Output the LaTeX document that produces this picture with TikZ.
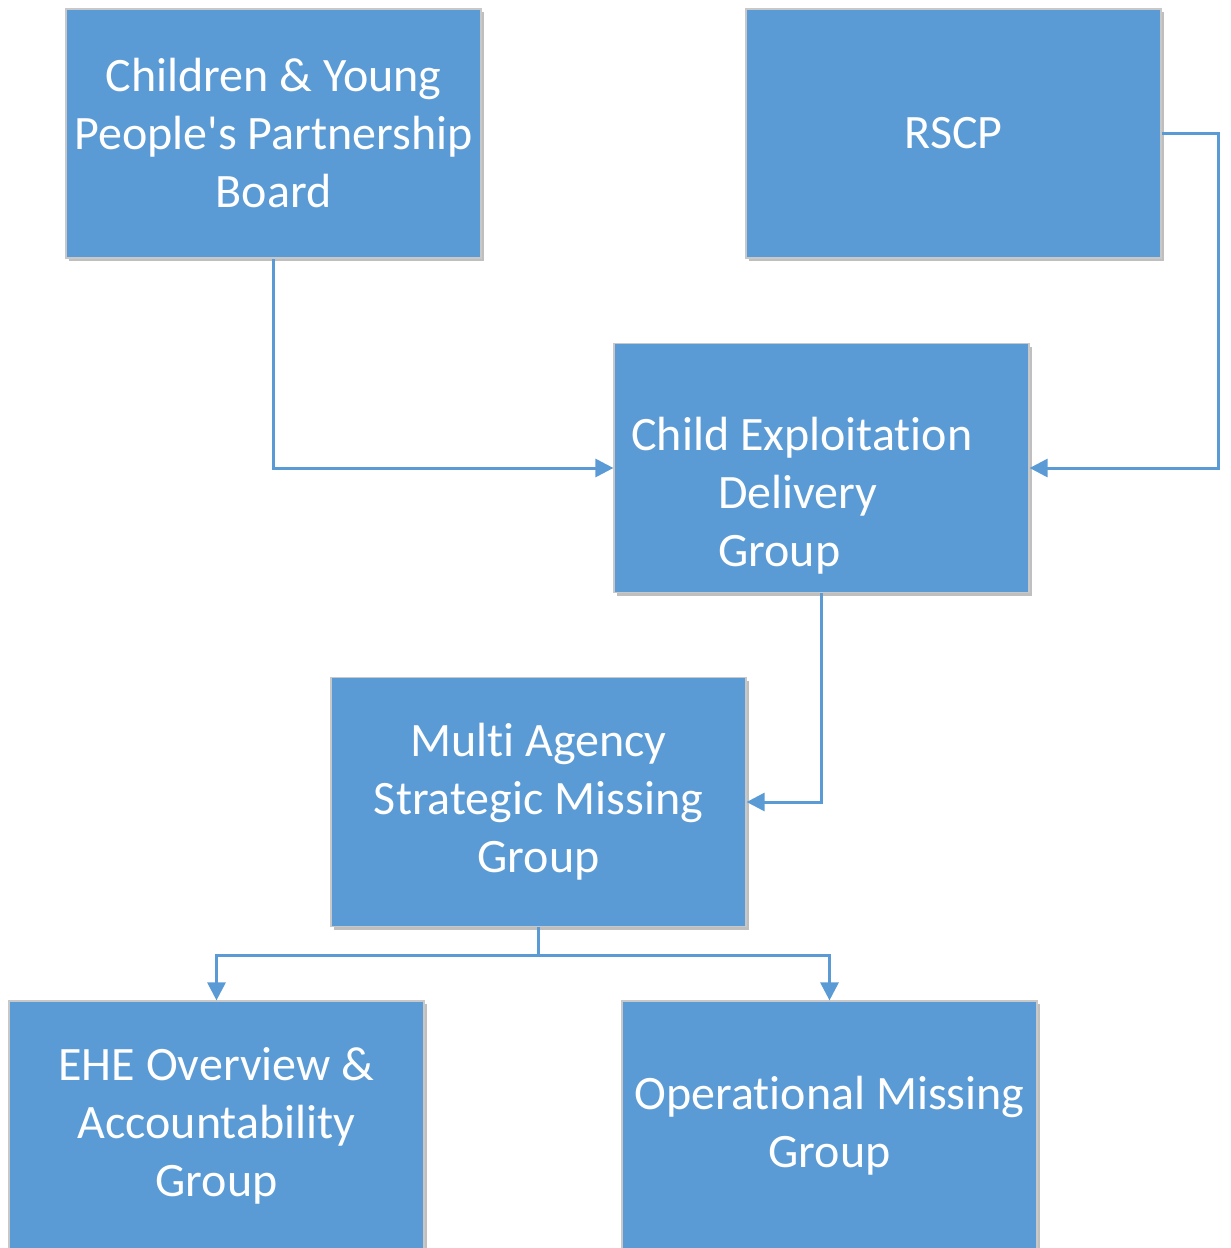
\documentclass[tikz,border=0pt]{standalone}
\usepackage{fontspec}
\setmainfont{Carlito}[Ligatures={NoCommon}]
\usetikzlibrary{arrows.meta,shadows}
\definecolor{boxblue}{HTML}{5B9BD5}
\definecolor{boxedge}{HTML}{C8C8C8}
\begin{document}
\begin{tikzpicture}[x=1pt,y=-1pt,
  txt/.style={text=white, align=center, inner sep=0pt,
    font=\fontsize{48pt}{58pt}\selectfont},
  box/.style={txt, fill=boxblue, draw=boxedge, line width=1.2pt,
    minimum width=415pt, minimum height=249pt,
    drop shadow={shadow xshift=3pt, shadow yshift=-3pt, opacity=0.25, fill=black}},
  conn/.style={draw=boxblue, line width=3pt,
    -{Triangle[length=18pt,width=18pt]}},
  plain/.style={draw=boxblue, line width=3pt}]
\useasboundingbox (0,0) rectangle (1231,1248);
\node[box] (cyp) at (273.5,133.5) {Children \& Young\\People\textquotesingle s Partnership\\Board};
\node[box] (rscp) at (953.5,133.5) {RSCP};
\node[box] (cedg) at (821.5,468) {};
\node[txt, align=left, xshift=-19.5pt, yshift=-28pt] (cedgtext) at (cedg.center) {Child Exploitation\\\hspace*{87pt}Delivery\\\hspace*{87pt}Group};
\node[box] (masmg) at (538.5,802) {Multi Agency\\Strategic Missing\\Group};
\node[box] (ehe) at (216.5,1125.5) {EHE Overview \&\\Accountability\\Group};
\node[box] (omg) at (829.5,1125.5) {Operational Missing\\Group};
\coordinate (split) at (538.5,955);
\draw[conn] (cyp.south) |- (cedg.west);
\draw[conn] (rscp.east) -- ++(57,0) |- (cedg.east);
\draw[conn] (cedg.south) |- (masmg.east);
\draw[plain] (masmg.south) -- (split);
\draw[conn] (split) -| (ehe.north);
\draw[conn] (split) -| (omg.north);
\end{tikzpicture}
\end{document}
